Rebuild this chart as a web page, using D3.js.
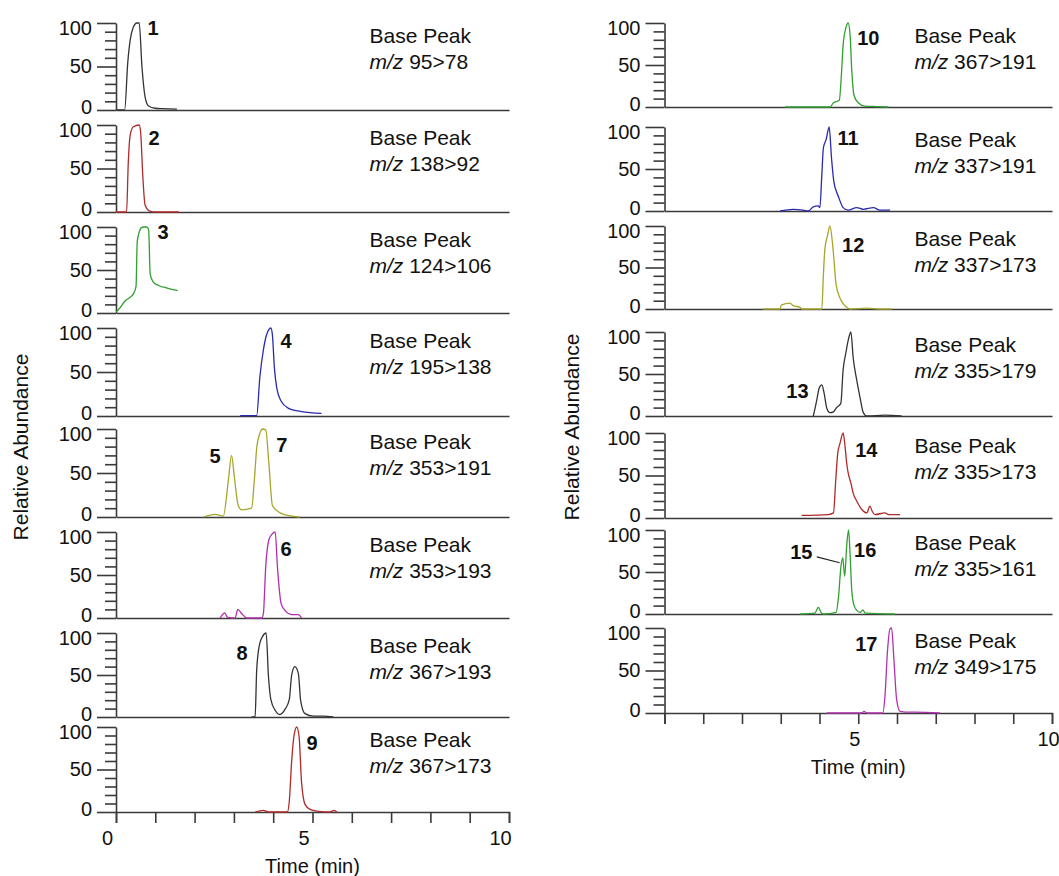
<!DOCTYPE html>
<meta charset="utf-8">
<style>

  body {
    margin: 0;
    background: #fff;
  }

  svg {
    font-family: Arial, "Liberation Sans", sans-serif;
  }

  .axis path,
  .axis line {
    stroke: #3a3a3a;
    stroke-width: 1.6;
  }

  .axis text {
    font-family: Arial, "Liberation Sans", sans-serif;
    font-size: 20px;
    fill: #111;
  }

  .trace {
    fill: none;
    stroke-width: 1.3;
    stroke-linejoin: round;
  }

  .peak-num {
    font-size: 20px;
    font-weight: bold;
    fill: #111;
  }

  .mz {
    font-size: 21px;
    fill: #111;
  }

</style>
<svg width="1059" height="876"></svg>
<script src="https://d3js.org/d3.v7.min.js"></script>
<script>

  // ---- data: [time (min), relative abundance (%)] ----
  var peak1 = [[0,0],[0.22,0],[0.30,55],[0.36,80],[0.44,95],[0.53,100],[0.59,100],[0.66,50],[0.74,15],[0.82,5],[1.0,2],[1.2,1.5],[1.55,1]];
  var peak2 = [[0,0],[0.27,0],[0.31,54],[0.36,88],[0.44,98],[0.59,100],[0.63,90],[0.68,43],[0.74,8],[0.86,1],[1.0,0],[1.6,0]];
  var peak3 = [[0,1],[0.1,6],[0.23,14],[0.35,18],[0.44,22],[0.51,31],[0.54,83],[0.59,94],[0.64,99],[0.7,100],[0.78,100],[0.83,97],[0.87,45],[0.95,36],[1.08,32],[1.3,29],[1.57,26]];
  var peak4 = [[3.16,0.5],[3.58,0.5],[3.66,44],[3.75,75],[3.83,92],[3.94,100],[3.98,92],[4.03,55],[4.09,32],[4.2,17],[4.38,9],[4.72,5],[5.23,3]];
  var peak5and7 = [[2.22,0],[2.52,3],[2.73,1],[2.86,42],[2.94,70],[3.01,46],[3.11,13],[3.2,8],[3.45,10],[3.52,42],[3.58,78],[3.66,95],[3.73,100],[3.81,99],[3.89,61],[3.98,13],[4.13,6],[4.34,2],[4.68,0]];
  var peak6 = [[2.65,0],[2.77,6],[2.83,1],[3.03,0],[3.1,10],[3.2,5],[3.33,0],[3.71,0],[3.75,5],[3.81,60],[3.89,91],[3.96,97],[4.05,100],[4.11,58],[4.2,17],[4.28,10],[4.47,4],[4.64,4],[4.72,0]];
  var peak8 = [[3.45,0],[3.54,0.5],[3.58,56],[3.65,86],[3.73,96],[3.82,100],[3.88,48],[3.94,21],[4.05,8],[4.17,3],[4.3,9],[4.41,21],[4.47,50],[4.55,60],[4.64,52],[4.7,19],[4.81,4],[5.02,1],[5.28,1],[5.53,0]];
  var peak9 = [[3.54,0],[3.75,2],[3.88,0],[4.36,0],[4.41,13],[4.47,60],[4.53,90],[4.6,100],[4.66,88],[4.72,36],[4.81,9],[4.94,3],[5.11,1],[5.45,0],[5.55,2],[5.62,0]];

  var peak10 = [[3.11,0],[4.27,0],[4.36,5],[4.51,8],[4.57,42],[4.61,74],[4.68,94],[4.74,100],[4.79,85],[4.83,46],[4.89,14],[5.0,5],[5.17,1],[5.48,0.5],[5.78,0]];
  var peak11 = [[2.98,0],[3.32,2],[3.58,1],[3.71,0],[3.84,5],[3.97,6],[4.01,4],[4.06,43],[4.1,75],[4.17,85],[4.25,100],[4.31,63],[4.37,35],[4.49,17],[4.61,4],[4.74,1],[4.96,4],[5.13,2],[5.39,4],[5.56,1],[5.82,1]];
  var peak12 = [[2.54,0],[2.98,0],[3.02,5],[3.24,7],[3.32,4],[3.5,2],[3.54,0],[4.06,0],[4.1,41],[4.14,73],[4.21,89],[4.27,100],[4.34,77],[4.43,29],[4.53,13],[4.68,3],[4.79,0],[5.22,1],[5.56,0],[5.86,0]];
  var peak13 = [[3.84,0],[3.93,19],[3.99,33],[4.06,37],[4.12,27],[4.19,9],[4.27,4],[4.36,5],[4.44,10],[4.55,15],[4.61,55],[4.68,75],[4.74,90],[4.81,100],[4.87,69],[4.96,43],[5.05,21],[5.13,4],[5.22,0],[5.69,1],[6.12,0]];
  var peak14 = [[3.54,3],[4.23,4],[4.36,6],[4.42,45],[4.47,76],[4.53,88],[4.61,100],[4.66,84],[4.7,65],[4.74,53],[4.81,41],[4.87,29],[4.96,20],[5.09,10],[5.22,6],[5.3,14],[5.36,8],[5.43,4],[5.69,6],[5.78,4],[6.08,4]];
  var peak15and16 = [[3.5,0],[3.88,1],[3.97,8],[4.04,2],[4.1,0],[4.43,2],[4.49,20],[4.55,55],[4.6,67],[4.65,45],[4.7,80],[4.75,100],[4.79,70],[4.83,30],[4.88,12],[4.95,5],[5.05,2],[5.12,5],[5.18,1],[5.95,0]];
  var peak17 = [[4.19,0],[5.09,0],[5.15,2],[5.22,0],[5.63,0],[5.69,20],[5.75,70],[5.82,99],[5.86,100],[5.92,63],[5.99,16],[6.08,2],[6.34,1],[6.46,1],[7.11,0]];

  var leftTraces = [peak1, peak2, peak3, peak4, peak5and7, peak6, peak8, peak9];
  var rightTraces = [peak10, peak11, peak12, peak13, peak14, peak15and16, peak17];

  var leftTransitions = ["95>78", "138>92", "124>106", "195>138", "353>191", "353>193", "367>193", "367>173"];
  var rightTransitions = ["367>191", "337>191", "337>173", "335>179", "335>173", "335>161", "349>175"];

  var leftColors = ["#333333", "#b02a2a", "#30a030", "#2a2aab", "#a6a62a", "#b030b0", "#333333", "#b02a2a"];
  var rightColors = ["#30a030", "#2a2aab", "#a6a62a", "#333333", "#b02a2a", "#30a030", "#b030b0"];

  // peak numbers: [panel, label, time, abundance]
  var leftPeakLabels = [[0,"1",0.94,94],[1,"2",0.97,85],[2,"3",1.2,94],[3,"4",4.33,86],[4,"5",2.52,69],[4,"7",4.22,82],[5,"6",4.33,81],[6,"8",3.21,77],[7,"9",4.99,82]];
  var rightPeakLabels = [[0,"10",5.26,82],[1,"11",4.74,87],[2,"12",4.87,77],[3,"13",3.43,30],[4,"14",5.21,80],[5,"15",3.53,74],[5,"16",5.18,77],[6,"17",5.21,82]];
  // leader line for peak 15: [panel, t0, v0, t1, v1]
  var leaders = [[5, 3.93, 68, 4.52, 61]];

  var timeTicks = d3.range(0, 11);
  var majorTicks = [0, 50, 100];
  var minorTicks = [10, 20, 30, 40, 60, 70, 80, 90];

  // ---- layout ----
  var svg = d3.select("svg");

  var columns = [
    {x0: 116, x1: 509, rows: [[23,110],[125,212],[227,313],[328,416],[429,517],[532,618],[633,717],[727,812]],
     traces: leftTraces, mz: leftTransitions, colors: leftColors, labels: leftPeakLabels,
     tickLabels: [0, 5, 10], tickDx: -9, yTitle: [21, 447]},
    {x0: 664.5, x1: 1052, rows: [[23,107],[127,211],[226,309],[332,416],[433,518],[530,614],[628,713]],
     traces: rightTraces, mz: rightTransitions, colors: rightColors, labels: rightPeakLabels,
     tickLabels: [5, 10], tickDx: -4, yTitle: [572, 427]}
  ];

  columns.forEach(function(col, ci) {
    var x = d3.scaleLinear().domain([0, 10]).range([col.x0, col.x1]);
    var nRows = col.rows.length;

    var yScales = col.rows.map(function(r, i) {
      var y = d3.scaleLinear().domain([0, 100]).range([r[1], r[0]]);
      var g = svg.append("g");
      var last = i === nRows - 1;

      // baseline / time axis
      var xAxis = d3.axisBottom(x).tickSizeOuter(0);
      if (last) {
        xAxis.tickValues(timeTicks).tickSize(11).tickPadding(8)
          .tickFormat(function(d) { return col.tickLabels.indexOf(d) >= 0 ? d : ""; });
      } else {
        xAxis.tickValues([]);
      }
      var xg = g.append("g")
        .attr("class", "axis")
        .attr("transform", "translate(0," + r[1] + ")")
        .call(xAxis);
      xg.selectAll("text").attr("dx", col.tickDx);

      // minor y ticks
      var ym = g.append("g")
        .attr("class", "axis")
        .attr("transform", "translate(" + col.x0 + ",0)")
        .call(d3.axisLeft(y).tickValues(minorTicks).tickSize(11).tickFormat(""));
      ym.select(".domain").remove();

      // major y ticks
      var yg = g.append("g")
        .attr("class", "axis")
        .attr("transform", "translate(" + col.x0 + ",0)")
        .call(d3.axisLeft(y).tickValues(majorTicks).tickSize(19).tickSizeOuter(0).tickPadding(5));
      yg.selectAll("text").attr("dy", function(d) {
        return d === 100 ? "0.55em" : d === 0 ? "0.18em" : "0.32em";
      });

      // trace
      var line = d3.line()
        .x(function(d) { return x(d[0]); })
        .y(function(d) { return y(d[1]); })
        .curve(d3.curveMonotoneX);

      g.append("path")
        .datum(col.traces[i])
        .attr("class", "trace")
        .attr("stroke", col.colors[i])
        .attr("d", line);

      // transition text
      g.append("text")
        .attr("class", "mz")
        .attr("x", x(6.45))
        .attr("y", r[0] + 20)
        .text("Base Peak");

      var t2 = g.append("text")
        .attr("class", "mz")
        .attr("x", x(6.45))
        .attr("y", r[0] + 46);
      t2.append("tspan").style("font-style", "italic").text("m/z");
      t2.append("tspan").text(" " + col.mz[i]);

      return y;
    });

    // peak numbers
    svg.append("g").selectAll("text")
      .data(col.labels)
      .enter().append("text")
      .attr("class", "peak-num")
      .attr("text-anchor", "middle")
      .attr("dy", "0.36em")
      .attr("x", function(d) { return x(d[2]); })
      .attr("y", function(d) { return yScales[d[0]](d[3]); })
      .text(function(d) { return d[1]; });

    if (ci === 1) {
      svg.append("g").selectAll("line")
        .data(leaders)
        .enter().append("line")
        .attr("stroke", "#222")
        .attr("stroke-width", 1.2)
        .attr("x1", function(d) { return x(d[1]); })
        .attr("y1", function(d) { return yScales[d[0]](d[2]); })
        .attr("x2", function(d) { return x(d[3]); })
        .attr("y2", function(d) { return yScales[d[0]](d[4]); });
    }

    // axis titles
    var bottom = col.rows[nRows - 1][1];
    svg.append("text")
      .attr("class", "mz")
      .attr("text-anchor", "middle")
      .style("font-size", "20px")
      .attr("x", x(5))
      .attr("y", bottom + 61)
      .text("Time (min)");

    svg.append("text")
      .attr("class", "mz")
      .attr("text-anchor", "middle")
      .attr("transform", "translate(" + col.yTitle[0] + "," + col.yTitle[1] + ") rotate(-90)")
      .attr("dy", "0.35em")
      .text("Relative Abundance");
  });

</script>
